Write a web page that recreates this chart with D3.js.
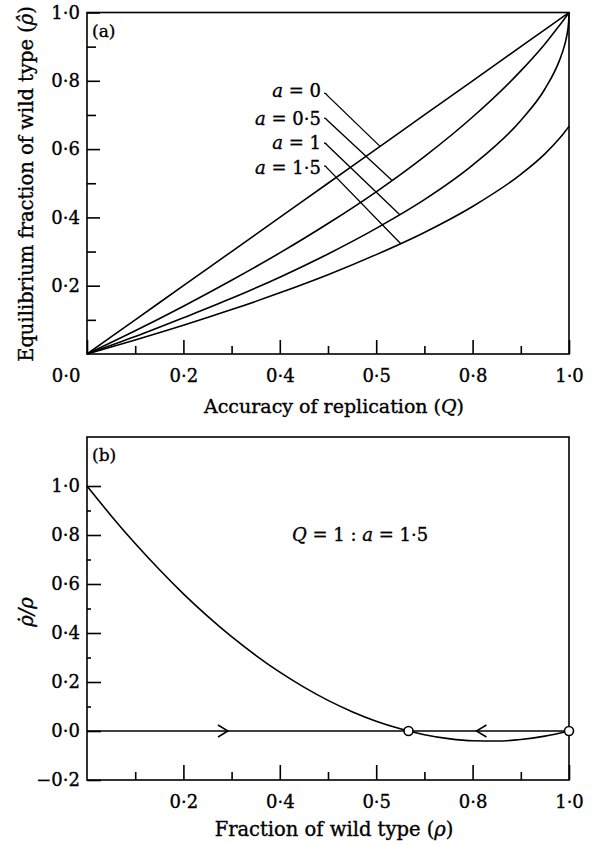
<!DOCTYPE html>
<html>
<head>
<meta charset="utf-8">
<script src="https://cdn.jsdelivr.net/npm/d3@7"></script>
<style>
  html, body { margin: 0; padding: 0; background: #fff; }
  svg { display: block; }
  text { stroke: #000; stroke-width: 0.35px; fill: #000; }
</style>
</head>
<body>
<script>
// ---------- Data ----------
// Panel (a): accuracy of replication Q and equilibrium fraction of wild type for each a
const accuracyQ   = [0, 0.1, 0.2, 0.3, 0.4, 0.5, 0.6, 0.7, 0.8, 0.9, 0.95, 0.98, 0.99, 0.995, 0.999, 1.0];
const rhoA_0      = [0, 0.1, 0.2, 0.3, 0.4, 0.5, 0.6, 0.7, 0.8, 0.9, 0.95, 0.98, 0.99, 0.995, 0.999, 1.0];
const rhoA_05     = [0, 0.068, 0.140, 0.216, 0.296, 0.382, 0.475, 0.578, 0.694, 0.829, 0.908, 0.962, 0.980, 0.990, 0.998, 1.0];
const rhoA_1      = [0, 0.051, 0.106, 0.163, 0.225, 0.293, 0.368, 0.452, 0.553, 0.684, 0.776, 0.859, 0.900, 0.929, 0.968, 1.0];
const rhoA_15     = [0, 0.041, 0.084, 0.130, 0.179, 0.232, 0.291, 0.356, 0.432, 0.526, 0.586, 0.631, 0.648, 0.657, 0.665, 0.667];
const seriesA     = [rhoA_0, rhoA_05, rhoA_1, rhoA_15];
const aValueLabels = ["0", "0·5", "1", "1·5"];
// where each leader line meets its curve (Q, rho)
const leaderEndQ   = [0.608, 0.633, 0.649, 0.651];
const leaderEndRho = [0.608, 0.508, 0.408, 0.323];

const xTickValsA   = [0, 0.2, 0.4, 0.6, 0.8, 1.0];
const xTickLabelsA = ["0·0", "0·2", "0·4", "0·5", "0·8", "1·0"];
const yTickValsA   = [0.2, 0.4, 0.6, 0.8, 1.0];
const yTickLabelsA = ["0·2", "0·4", "0·6", "0·8", "1·0"];
const minorVals    = [0.1, 0.3, 0.5, 0.7, 0.9];

// Panel (b): fraction of wild type rho and relative growth rate
const rhoB     = [0, 0.05, 0.1, 0.15, 0.2, 0.25, 0.3, 0.35, 0.4, 0.45, 0.5, 0.55, 0.6, 0.65, 0.7, 0.75, 0.8, 0.85, 0.9, 0.95, 1.0];
const growthB  = [1.0, 0.879, 0.765, 0.659, 0.560, 0.469, 0.385, 0.309, 0.240, 0.179, 0.125, 0.079, 0.040, 0.009, -0.015, -0.031, -0.040, -0.041, -0.035, -0.021, 0];
const fixedPointsB = [0.667, 1.0];
const arrowAtB     = [0.2925, 0.808];
const arrowDirB    = [1, -1];

const xTickValsB   = [0.2, 0.4, 0.6, 0.8, 1.0];
const xTickLabelsB = ["0·2", "0·4", "0·5", "0·8", "1·0"];
const yTickValsB   = [-0.2, 0, 0.2, 0.4, 0.6, 0.8, 1.0];
const yTickLabelsB = ["−0·2", "0·0", "0·2", "0·4", "0·6", "0·8", "1·0"];

// ---------- Layout ----------
const W = 592, H = 845;
const FONT = "'DejaVu Serif', 'Liberation Serif', serif";
const SW = 1.6;

const svg = d3.select("body").append("svg")
  .attr("width", W).attr("height", H)
  .attr("font-family", FONT);
svg.append("rect").attr("width", W).attr("height", H).attr("fill", "#fff");

const xA = d3.scaleLinear([0, 1], [87, 569]);
const yA = d3.scaleLinear([0, 1], [354, 12.5]);
const xB = d3.scaleLinear([0, 1], [87, 569]);
const yB = d3.scaleLinear([-0.2, 1.2], [780, 437]);

function styleAxis(g) {
  g.attr("font-family", FONT).attr("font-size", 18);
  g.select(".domain").remove();
  g.selectAll(".tick line").attr("stroke", "#000").attr("stroke-width", SW);
  g.selectAll(".tick text").attr("fill", "#000");
}

// ---------- Panel (a) ----------
const gA = svg.append("g");

gA.append("g").attr("transform", `translate(0,${yA(0)})`)
  .call(d3.axisBottom(xA).tickValues(xTickValsA)
    .tickFormat((d, i) => xTickLabelsA[i]).tickSize(-14).tickPadding(15))
  .call(styleAxis)
  .call(g => g.selectAll(".tick text").filter(d => d === 0)
    .attr("text-anchor", "end").attr("x", -7));
gA.append("g").attr("transform", `translate(0,${yA(0)})`)
  .call(d3.axisBottom(xA).tickValues(minorVals).tickFormat("").tickSize(-8))
  .call(styleAxis);

gA.append("g").attr("transform", `translate(${xA(0)},0)`)
  .call(d3.axisLeft(yA).tickValues(yTickValsA)
    .tickFormat((d, i) => yTickLabelsA[i]).tickSize(-13).tickPadding(7))
  .call(styleAxis);
gA.append("g").attr("transform", `translate(${xA(0)},0)`)
  .call(d3.axisLeft(yA).tickValues(minorVals).tickFormat("").tickSize(-9))
  .call(styleAxis);

gA.append("rect")
  .attr("x", xA(0)).attr("y", yA(1))
  .attr("width", xA(1) - xA(0)).attr("height", yA(0) - yA(1))
  .attr("fill", "none").attr("stroke", "#000").attr("stroke-width", SW);

const lineA = d3.line().curve(d3.curveMonotoneX)
  .x((d, i) => xA(accuracyQ[i])).y(d => yA(d));
gA.selectAll("path.curveA").data(seriesA).join("path")
  .attr("class", "curveA")
  .attr("d", d => lineA(d))
  .attr("fill", "none").attr("stroke", "#000").attr("stroke-width", SW);

// curve labels and leader lines
const labelEndQ = 0.4855;
const labelBaseRho = [0.754, 0.672, 0.599, 0.528];
const leaderStartQ = 0.498;
const leaderStartRho = [0.758, 0.685, 0.612, 0.545];
aValueLabels.forEach((lab, i) => {
  const t = gA.append("text")
    .attr("x", xA(labelEndQ)).attr("y", yA(labelBaseRho[i]))
    .attr("text-anchor", "end").attr("font-size", 18);
  t.append("tspan").attr("font-style", "italic").text("a");
  t.append("tspan").text(" = " + lab);
  const x1 = xA(leaderStartQ), y1 = yA(leaderStartRho[i]);
  gA.append("path")
    .attr("d", `M${x1 - 3},${y1 - 2} Q${x1 - 1},${y1 - 2} ${x1},${y1} L${xA(leaderEndQ[i])},${yA(leaderEndRho[i])}`)
    .attr("fill", "none").attr("stroke", "#000").attr("stroke-width", 1.3);
});

gA.append("text").attr("x", 92).attr("y", 37).attr("font-size", 17).text("(a)");

// axis titles (a)
const xtA = svg.append("text").attr("x", 334).attr("y", 413)
  .attr("text-anchor", "middle").attr("font-size", 19);
xtA.append("tspan").text("Accuracy of replication (");
xtA.append("tspan").attr("font-style", "italic").text("Q");
xtA.append("tspan").text(")");

const ytA = svg.append("text")
  .attr("transform", "translate(33,184) rotate(-90)")
  .attr("text-anchor", "middle").attr("font-size", 19.5);
ytA.append("tspan").text("Equilibrium fraction of wild type (");
ytA.append("tspan").attr("font-style", "italic").text("ρ\u0302");
ytA.append("tspan").text(")");

// ---------- Panel (b) ----------
const gB = svg.append("g");

gB.append("g").attr("transform", `translate(0,${yB(-0.2)})`)
  .call(d3.axisBottom(xB).tickValues(xTickValsB)
    .tickFormat((d, i) => xTickLabelsB[i]).tickSize(-15).tickPadding(15))
  .call(styleAxis);
gB.append("g").attr("transform", `translate(0,${yB(-0.2)})`)
  .call(d3.axisBottom(xB).tickValues(minorVals).tickFormat("").tickSize(-8))
  .call(styleAxis);

gB.append("g").attr("transform", `translate(${xB(0)},0)`)
  .call(d3.axisLeft(yB).tickValues(yTickValsB)
    .tickFormat((d, i) => yTickLabelsB[i]).tickSize(-14).tickPadding(7))
  .call(styleAxis);
gB.append("g").attr("transform", `translate(${xB(0)},0)`)
  .call(d3.axisLeft(yB).tickValues(minorVals).tickFormat("").tickSize(-4))
  .call(styleAxis);

gB.append("rect")
  .attr("x", xB(0)).attr("y", yB(1.2))
  .attr("width", xB(1) - xB(0)).attr("height", yB(-0.2) - yB(1.2))
  .attr("fill", "none").attr("stroke", "#000").attr("stroke-width", SW);

// zero line
gB.append("line")
  .attr("x1", xB(0)).attr("x2", xB(1)).attr("y1", yB(0)).attr("y2", yB(0))
  .attr("stroke", "#000").attr("stroke-width", SW);

const lineB = d3.line().curve(d3.curveMonotoneX)
  .x((d, i) => xB(rhoB[i])).y(d => yB(d));
gB.append("path").attr("d", lineB(growthB))
  .attr("fill", "none").attr("stroke", "#000").attr("stroke-width", SW);

// direction arrows (open chevrons)
arrowAtB.forEach((r, i) => {
  const tx = xB(r), ty = yB(0), dir = arrowDirB[i];
  gB.append("path")
    .attr("d", `M${tx - dir * 10},${ty - 6} L${tx},${ty} L${tx - dir * 10},${ty + 6}`)
    .attr("fill", "none").attr("stroke", "#000").attr("stroke-width", 1.5);
});

// fixed points
gB.selectAll("circle.fp").data(fixedPointsB).join("circle")
  .attr("class", "fp")
  .attr("cx", d => xB(d)).attr("cy", yB(0)).attr("r", 4.5)
  .attr("fill", "#fff").attr("stroke", "#000").attr("stroke-width", 1.6);

gB.append("text").attr("x", 92).attr("y", 461).attr("font-size", 17).text("(b)");

const note = gB.append("text").attr("x", 292).attr("y", 541).attr("font-size", 18);
note.append("tspan").attr("font-style", "italic").text("Q");
note.append("tspan").text(" = 1 : ");
note.append("tspan").attr("font-style", "italic").text("a");
note.append("tspan").text(" = 1·5");

const xtB = svg.append("text").attr("x", 334).attr("y", 836)
  .attr("text-anchor", "middle").attr("font-size", 19.5);
xtB.append("tspan").text("Fraction of wild type (");
xtB.append("tspan").attr("font-style", "italic").text("ρ");
xtB.append("tspan").text(")");

const ytB = svg.append("text")
  .attr("transform", "translate(33,612) rotate(-90)")
  .attr("text-anchor", "middle").attr("font-size", 19.5)
  .attr("font-style", "italic");
ytB.text("ρ\u0307/ρ");
</script>
</body>
</html>
